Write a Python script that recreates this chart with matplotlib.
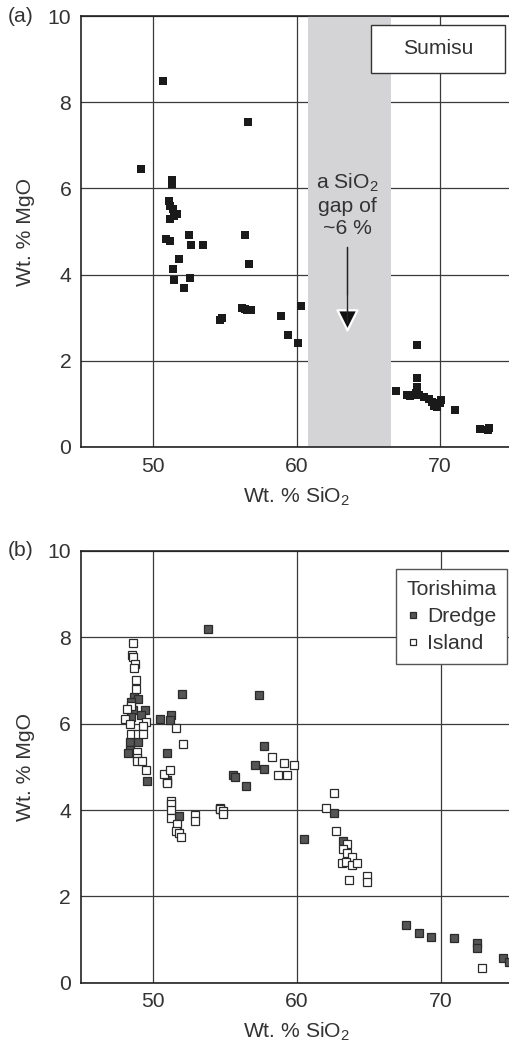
import matplotlib
matplotlib.use("Agg")
import matplotlib.pyplot as plt
from matplotlib.patches import Rectangle

plt.rcParams['font.family'] = ['Liberation Sans', 'DejaVu Sans']
plt.rcParams['mathtext.fontset'] = 'custom'
plt.rcParams['mathtext.rm'] = 'Liberation Sans'
plt.rcParams['mathtext.it'] = 'Liberation Sans'

# ---- data ----
sumisu_sio2 = [50.7, 56.6, 49.2, 51.3, 51.3, 51.1, 51.2, 51.4, 51.7, 51.2, 51.5,
               50.9, 51.2, 52.55, 52.65, 53.5, 56.4, 56.7, 51.85, 51.4, 51.5, 52.6,
               52.2, 54.7, 54.8, 56.2, 56.4, 56.55, 56.8, 58.9, 59.4, 60.1, 60.3,
               66.9, 68.4, 68.4, 68.4, 67.7, 67.9, 68.1, 68.3, 68.5, 68.9, 69.2,
               69.4, 69.6, 69.8, 70.0, 70.05, 71.0, 72.8, 73.3, 73.4]
sumisu_mgo = [8.5, 7.55, 6.45, 6.2, 6.1, 5.7, 5.6, 5.52, 5.4, 5.3, 5.35,
              4.83, 4.78, 4.93, 4.68, 4.68, 4.92, 4.25, 4.37, 4.14, 3.88, 3.93,
              3.69, 2.95, 3.0, 3.22, 3.2, 3.17, 3.17, 3.05, 2.6, 2.42, 3.26,
              1.31, 2.37, 1.6, 1.4, 1.2, 1.18, 1.2, 1.25, 1.2, 1.17, 1.12,
              1.05, 0.95, 0.92, 1.02, 1.1, 0.85, 0.42, 0.4, 0.45]

dredge_sio2 = [53.8, 52.0, 57.4, 50.5, 51.3, 51.2, 51.0, 48.7, 49.0, 48.5,
               48.6, 49.45, 48.5, 49.2, 48.4, 48.95, 48.4, 48.3, 49.6, 51.0,
               51.0, 51.8, 54.65, 54.7, 55.6, 55.7, 56.5, 57.1, 57.7, 57.7,
               60.5, 62.6, 63.2, 67.6, 68.5, 69.3, 70.9, 72.5, 72.5, 74.3, 74.75]
dredge_mgo = [8.2, 6.68, 6.66, 6.11, 6.21, 6.08, 5.31, 6.62, 6.58, 6.5,
              6.31, 6.31, 6.16, 6.2, 5.58, 5.58, 5.4, 5.31, 4.68, 4.69,
              4.64, 3.87, 4.05, 4.02, 4.81, 4.76, 4.56, 5.05, 5.48, 4.94,
              3.32, 3.94, 3.29, 1.34, 1.14, 1.05, 1.03, 0.93, 0.81, 0.58, 0.49]

island_sio2 = [48.65, 48.55, 48.6, 48.75, 48.7, 48.85, 48.85, 48.5, 48.2, 48.05,
               49.55, 48.4, 49.3, 48.5, 49.0, 49.3, 51.6, 52.1, 48.9, 48.9,
               48.9, 49.25, 49.5, 50.75, 51.2, 51.0, 51.25, 51.3, 51.3, 51.3,
               51.7, 51.6, 51.85, 51.95, 52.9, 52.9, 54.7, 54.85, 54.85, 58.3,
               59.1, 59.8, 58.7, 59.3, 62.55, 62.05, 62.7, 63.5, 63.2, 63.5,
               63.8, 63.15, 63.4, 63.85, 64.2, 63.65, 64.9, 64.9, 72.85]
island_mgo = [7.88, 7.6, 7.55, 7.39, 7.28, 7.02, 6.81, 6.4, 6.35, 6.1,
              6.04, 6.0, 5.95, 5.77, 5.77, 5.75, 5.89, 5.52, 5.35, 5.2,
              5.14, 5.14, 4.92, 4.83, 4.92, 4.62, 4.21, 4.15, 4.0, 3.82,
              3.67, 3.51, 3.46, 3.37, 3.88, 3.74, 4.02, 3.98, 3.91, 5.23,
              5.1, 5.05, 4.81, 4.8, 4.4, 4.04, 3.51, 3.21, 3.09, 3.0,
              2.92, 2.78, 2.8, 2.72, 2.78, 2.39, 2.47, 2.33, 0.33]

x_ticks = [50, 60, 70]
y_ticks = [0, 2, 4, 6, 8, 10]
gap_range = (60.8, 66.6)

TXT = '#333333'
FS = 15.2

W, H = 509, 1043
fig = plt.figure(figsize=(W / 100, H / 100), dpi=100)

def make_axes(top_px, bottom_px, left_px, right_px):
    return fig.add_axes([left_px / W, 1 - bottom_px / H,
                         (right_px - left_px) / W, (bottom_px - top_px) / H])

def style(ax):
    ax.set_xlim(45, 75)
    ax.set_ylim(0, 10)
    ax.set_xticks(x_ticks)
    ax.set_yticks(y_ticks)
    ax.grid(True, color='#3a3a3a', lw=0.9)
    ax.set_axisbelow(True)
    ax.tick_params(length=0, labelsize=FS, labelcolor=TXT, pad=7)
    for s in ['left', 'bottom', 'top']:
        ax.spines[s].set_color('#222222')
        ax.spines[s].set_linewidth(1.2)
    ax.spines['right'].set_visible(False)
    ax.set_ylabel('Wt. % MgO', fontsize=FS, color=TXT, labelpad=9)
    ax.set_xlabel('Wt. % SiO$_2$', fontsize=FS, color=TXT, labelpad=7)

# ---- panel (a) ----
AX1_TOP, AX1_H = 16, 431
ax1 = make_axes(AX1_TOP, AX1_TOP + AX1_H, 81, 512)
style(ax1)
ax1.axvspan(*gap_range, color='#d4d4d6', zorder=1.5, lw=0)
ax1.plot(sumisu_sio2, sumisu_mgo, 's', color='#1a1a1a', ms=6.3, mew=0, zorder=3)
ax1.text(63.55, 5.62, 'a SiO$_2$\ngap of\n~6 %', ha='center', va='center',
         fontsize=FS, color=TXT, linespacing=1.22, zorder=4)
# arrow head (black with white outline) and shaft
ax1.annotate('', xy=(63.55, 2.65), xytext=(63.55, 3.5),
             arrowprops=dict(arrowstyle='-|>,head_length=0.72,head_width=0.36',
                             mutation_scale=20, fc='#111111', ec='white', lw=1.6,
                             shrinkA=0, shrinkB=0), zorder=4)
ax1.annotate('', xy=(63.55, 2.9), xytext=(63.55, 4.63),
             arrowprops=dict(arrowstyle='-', color='#222222', lw=1.1,
                             shrinkA=0, shrinkB=0), zorder=5)
ax1.add_patch(Rectangle(((371 - 81) / 431, 1 - (73 - AX1_TOP) / AX1_H),
                        (505.5 - 371) / 431, 48 / AX1_H,
                        transform=ax1.transAxes, fc='white', ec='#333333', lw=1.0,
                        zorder=5))
ax1.text((438 - 81) / 431, 1 - (49 - AX1_TOP) / AX1_H, 'Sumisu', transform=ax1.transAxes,
         ha='center', va='center', fontsize=FS, color=TXT, zorder=6)
fig.text(8 / W, 1 - 16 / H, '(a)', fontsize=FS, color=TXT, ha='left', va='center')

# ---- panel (b) ----
ax2 = make_axes(551, 982.7, 80.7, 513)
style(ax2)
ax2.plot(dredge_sio2, dredge_mgo, 's', mfc='#555555', mec='#2a2a2a', ms=5.6,
         mew=0.9, zorder=3, label='Dredge')
ax2.plot(island_sio2, island_mgo, 's', mfc='white', mec='#2a2a2a', ms=5.6,
         mew=0.9, zorder=3, label='Island')
leg = ax2.legend(title='Torishima', loc='upper left',
                 bbox_to_anchor=((395.7 - 80.7) / 432.3, 1 - 18 / 431.7),
                 fontsize=FS, title_fontsize=FS, frameon=True, fancybox=False,
                 edgecolor='#555555', framealpha=1, borderpad=0.5,
                 handlelength=0.6, handletextpad=0.4, labelspacing=0.4,
                 markerscale=0.75, borderaxespad=0)
leg.get_frame().set_linewidth(1.0)
for t in leg.get_texts():
    t.set_color(TXT)
leg.get_title().set_color(TXT)
fig.text(8 / W, 1 - 551 / H, '(b)', fontsize=FS, color=TXT, ha='left', va='center')

fig.savefig('out.png', dpi=100)
